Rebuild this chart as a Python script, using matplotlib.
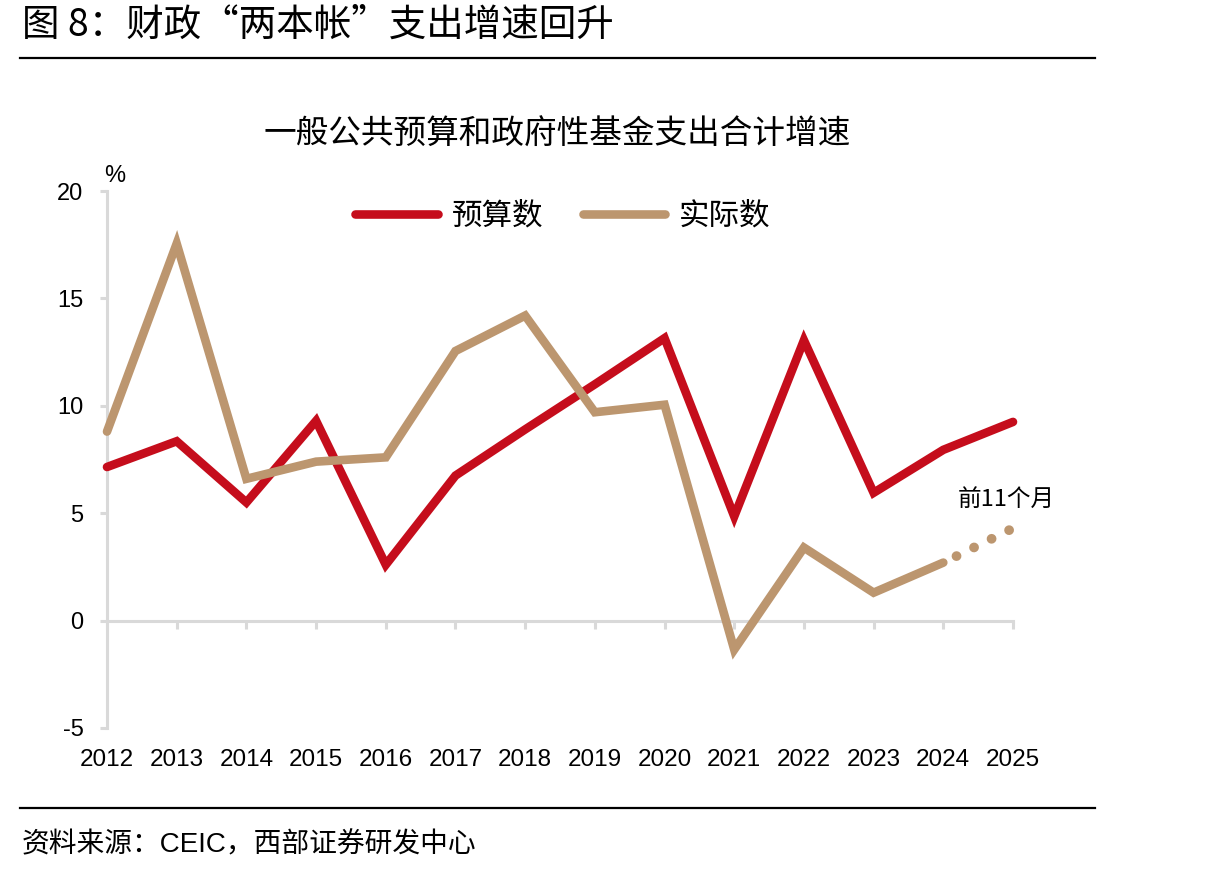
import numpy as np
import matplotlib
matplotlib.use("Agg")
import matplotlib.pyplot as plt
from matplotlib.lines import Line2D

plt.rcParams['font.family'] = ['Liberation Sans', 'Noto Sans CJK SC']

years = np.arange(2012, 2026)
budget = [7.15, 8.35, 5.5, 9.3, 2.6, 6.75, 8.9, 11.0, 13.15, 4.85, 13.05, 5.95, 7.95, 9.25]
actual = [8.8, 17.55, 6.6, 7.4, 7.6, 12.55, 14.2, 9.7, 10.05, -1.35, 3.4, 1.3, 2.7]
actual_2025 = 4.3  # 前11个月

red = '#C50D1C'
tan = '#BC966F'
grey = '#D9D9D9'

fig = plt.figure(figsize=(12.15, 8.74), dpi=100)
ax = fig.add_axes([107/1215, 1 - 728/874, (1013 - 107)/1215, (728 - 191)/874])

ax.plot(years, budget, color=red, lw=6.2, solid_capstyle='round',
        solid_joinstyle='miter', label='预算数', clip_on=False, zorder=3)
ax.plot(years[:-1], actual, color=tan, lw=6.2, solid_capstyle='round',
        solid_joinstyle='miter', label='实际数', clip_on=False, zorder=3)
ax.plot([years[-2], years[-1]], [actual[-1], actual_2025], color=tan, lw=7,
        linestyle=(0.5, (0.01, 2.0)), dash_capstyle='round', clip_on=False, zorder=3)

ax.set_xlim(2012, 2025)
ax.set_ylim(-5, 20)
ax.set_yticks([-5, 0, 5, 10, 15, 20])
ax.set_yticklabels(['-5', '0', '5', '10', '15', '20'])

for s in ['top', 'right']:
    ax.spines[s].set_visible(False)
ax.spines['left'].set_color(grey)
ax.spines['left'].set_linewidth(2.2)
ax.spines['bottom'].set_position(('data', 0))
ax.spines['bottom'].set_color(grey)
ax.spines['bottom'].set_linewidth(2.2)

ax.set_xticks(years)
ax.tick_params(axis='x', direction='out', length=6, width=2.2, color=grey,
               labelbottom=False)
ax.tick_params(axis='y', direction='out', length=5, width=2.2, color=grey,
               labelsize=17, pad=12)

sec = ax.secondary_xaxis(0)
sec.set_xticks(years)
sec.set_xticklabels([str(y) for y in years])
sec.spines['bottom'].set_visible(False)
sec.tick_params(length=0, labelsize=17.5, pad=15)

leg = ax.legend(loc='center', bbox_to_anchor=(563/1215, 1 - 216/874),
                bbox_transform=fig.transFigure, ncol=2, frameon=False,
                prop={'family': ['Noto Sans CJK SC'], 'size': 22},
                handlelength=2.7, handletextpad=0.45, columnspacing=1.3)
for h in leg.get_lines():
    h.set_solid_capstyle('round')

ax.text(2024.9, 5.65, '前11个月', ha='center', va='center', fontsize=17,
        family=['Noto Sans CJK SC'])

fig.text(115/1215, 1 - 176/874, '%', ha='center', va='center', fontsize=17)
fig.text(557/1215, 1 - 135/874, '一般公共预算和政府性基金支出合计增速',
         ha='center', va='center', fontsize=23.5, family=['Noto Sans CJK SC'])

fig.text(22/1215, 1 - 25/874, '图 8：财政“两本帐”支出增速回升', ha='left',
         va='center', fontsize=27, family=['Noto Sans CJK SC'])
fig.add_artist(Line2D([20/1215, 1095/1215], [1 - 58/874, 1 - 58/874],
                      transform=fig.transFigure, color='black', lw=1.6))
fig.add_artist(Line2D([20/1215, 1095/1215], [1 - 808/874, 1 - 808/874],
                      transform=fig.transFigure, color='black', lw=1.6))
fig.text(22/1215, 1 - 845/874, '资料来源：CEIC，西部证券研发中心', ha='left',
         va='center', fontsize=20, family=['Liberation Sans', 'Noto Sans CJK SC'])

fig.savefig('out.png', dpi=100)
